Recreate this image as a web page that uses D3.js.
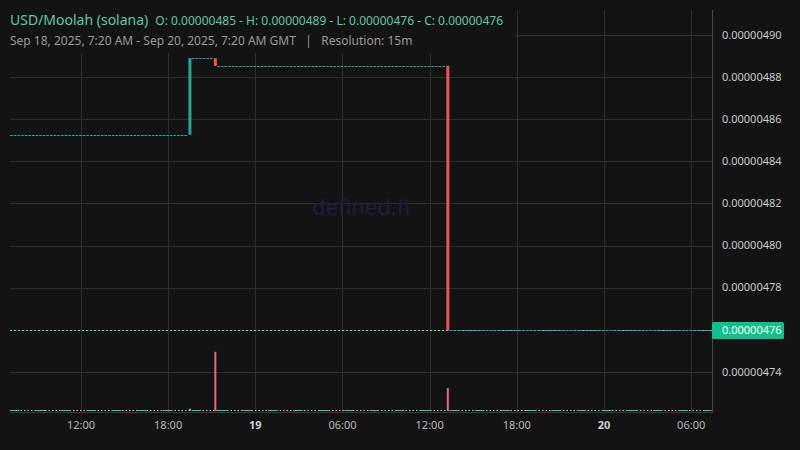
<!DOCTYPE html>
<html><head><meta charset="utf-8">
<script src="https://cdn.jsdelivr.net/npm/d3@7/dist/d3.min.js"></script>
<style>html,body{margin:0;padding:0;background:#131313;}svg{display:block;}</style>
</head><body>
<svg id="c" width="800" height="450"></svg>
<script>
// ---- data ----
const title = "USD/Moolah (solana)";
const ohlcText = "O: 0.00000485 - H: 0.00000489 - L: 0.00000476 - C: 0.00000476";
const subtitle = "Sep 18, 2025, 7:20 AM - Sep 20, 2025, 7:20 AM GMT   |   Resolution: 15m";
// candles with movement (15m)
const candleTimes = ["2025-09-18T19:30Z", "2025-09-18T21:15Z", "2025-09-19T13:15Z"];
const candleOpen  = [4.8527e-6, 4.8890e-6, 4.8854e-6];
const candleHigh  = [4.8890e-6, 4.8890e-6, 4.8854e-6];
const candleLow   = [4.8527e-6, 4.8854e-6, 4.7597e-6];
const candleClose = [4.8890e-6, 4.8854e-6, 4.7597e-6];
const candleVolume = [12, 310, 120];
// flat runs of unchanged 15m candles (zero volume)
const runStart = ["2025-09-18T07:15Z", "2025-09-18T19:45Z", "2025-09-18T21:30Z", "2025-09-19T13:30Z"];
const runEnd   = ["2025-09-18T19:15Z", "2025-09-18T21:00Z", "2025-09-19T13:00Z", "2025-09-20T07:15Z"];
const runPrice = [4.8527e-6, 4.8890e-6, 4.8854e-6, 4.7597e-6];
const lastPrice = 4.7597e-6;
const priceTicks = [4.74e-6, 4.76e-6, 4.78e-6, 4.80e-6, 4.82e-6, 4.84e-6, 4.86e-6, 4.88e-6, 4.90e-6];
const timeTicks = ["2025-09-18T12:00Z","2025-09-18T18:00Z","2025-09-19T00:00Z","2025-09-19T06:00Z",
                   "2025-09-19T12:00Z","2025-09-19T18:00Z","2025-09-20T00:00Z","2025-09-20T06:00Z"];
const timeDomain = ["2025-09-18T07:07Z", "2025-09-20T07:26Z"];
const priceDomain = [4.7214e-6, 4.9119e-6];
const volumeDomain = [0, 2100];

// ---- layout ----
const L = 10, R = 712, T = 10, B = 411;
const UP = "#26a69a", DOWN = "#ef5350";
const font = "'Noto Sans', 'Open Sans', sans-serif";
const svg = d3.select("#c");
svg.append("rect").attr("width",800).attr("height",450).attr("fill","#131313");

const x = d3.scaleUtc().domain(timeDomain.map(d=>new Date(d))).range([L, R]);
const y = d3.scaleLinear().domain(priceDomain).range([B, T]);
const yv = d3.scaleLinear().domain(volumeDomain).range([B, T]);
const step = x(new Date("2025-09-19T00:15Z")) - x(new Date("2025-09-19T00:00Z"));

// grid
const g = svg.append("g");
g.selectAll("line.h").data(priceTicks).join("line")
  .attr("x1", L).attr("x2", R).attr("y1", d=>Math.round(y(d))+0.5).attr("y2", d=>Math.round(y(d))+0.5)
  .attr("stroke", "#2e2e2e").attr("stroke-width", 1);
g.selectAll("line.v").data(timeTicks.map(d=>new Date(d))).join("line")
  .attr("x1", d=>Math.round(x(d))+0.5).attr("x2", d=>Math.round(x(d))+0.5).attr("y1", T).attr("y2", B+1)
  .attr("stroke", "#2e2e2e").attr("stroke-width", 1);
// right border & bottom
svg.append("line").attr("x1", R+0.5).attr("x2", R+0.5).attr("y1", T).attr("y2", B+1.5).attr("stroke", "#4a4a4a");
svg.append("line").attr("x1", L).attr("x2", R+1).attr("y1", B+1.5).attr("y2", B+1.5).attr("stroke", "#3a3a3a");

// watermark
svg.append("text").attr("x", (L+R)/2).attr("y", 215).attr("text-anchor","middle")
  .attr("font-family", font).attr("font-size", 22).attr("fill", "#201e38").text("defined.fi");

// header background box (covers grid)
svg.append("rect").attr("x",0).attr("y",0).attr("width",515).attr("height",53).attr("fill","#131313");

// price line
svg.append("line").attr("x1", L).attr("x2", R).attr("y1", Math.round(y(lastPrice))+0.5).attr("y2", Math.round(y(lastPrice))+0.5)
  .attr("stroke", "#7fcfb8").attr("stroke-width", 1).attr("stroke-dasharray", "2,2");

// volume: zero-volume runs
const runs = runStart.map((s,i)=>({s:new Date(s), e:new Date(runEnd[i]), p:runPrice[i]}));
svg.append("line").attr("x1", L).attr("x2", R).attr("y1", yv(0)-0.5).attr("y2", yv(0)-0.5)
  .attr("stroke", "#9fd8c8").attr("stroke-width", 1).attr("stroke-dasharray", "1.5,2");
svg.selectAll("line.vr").data(runs).join("line")
  .attr("x1", d=>x(d.s)-step/2).attr("x2", d=>x(d.e)+step/2)
  .attr("y1", yv(0)-0.5).attr("y2", yv(0)-0.5)
  .attr("stroke", "#4fc3a3").attr("stroke-width", 1).attr("stroke-dasharray", `${(step*2.6).toFixed(2)},${(step*4.4).toFixed(2)}`);
// volume bars
const candles = candleTimes.map((t,i)=>({t:new Date(t), o:candleOpen[i], h:candleHigh[i], l:candleLow[i], c:candleClose[i], v:candleVolume[i]}));
svg.selectAll("rect.vol").data(candles).join("rect")
  .attr("x", d=>x(d.t)-1).attr("width", 2)
  .attr("y", d=>yv(d.v)).attr("height", d=>Math.max(1, yv(0)-yv(d.v)))
  .attr("fill", d=>d.c>=d.o ? "#5cc9a8" : "#e8657a");

// flat candle runs
svg.selectAll("line.run").data(runs).join("line")
  .attr("x1", d=>x(d.s)-step/2).attr("x2", d=>x(d.e)+step/2)
  .attr("y1", d=>Math.round(y(d.p))+0.5).attr("y2", d=>Math.round(y(d.p))+0.5)
  .attr("stroke", UP).attr("stroke-width", 1).attr("stroke-dasharray", `${(step*0.75).toFixed(2)},${(step*0.25).toFixed(2)}`);

// candles
const cw = 3;
svg.selectAll("line.wick").data(candles).join("line")
  .attr("x1", d=>x(d.t)).attr("x2", d=>x(d.t)).attr("y1", d=>y(d.h)).attr("y2", d=>y(d.l))
  .attr("stroke", d=>d.c>=d.o?UP:DOWN).attr("stroke-width", 1);
svg.selectAll("rect.body").data(candles).join("rect")
  .attr("x", d=>x(d.t)-cw/2).attr("width", cw)
  .attr("y", d=>y(Math.max(d.o,d.c))).attr("height", d=>Math.max(1, Math.abs(y(d.o)-y(d.c))))
  .attr("fill", d=>d.c>=d.o?UP:DOWN);

// right axis labels
svg.selectAll("text.py").data(priceTicks).join("text")
  .attr("x", 722).attr("y", d=>y(d)).attr("dy", "0.35em")
  .attr("font-family", font).attr("font-size", 11).attr("fill", "#c8c8c8")
  .text(d=>d3.format(".8f")(d));
// last price label
const ly = Math.round(y(lastPrice));
svg.append("rect").attr("x", R).attr("y", ly-8).attr("width", 72).attr("height", 17).attr("rx", 1.5).attr("fill", "#0fbf8c");
svg.append("text").attr("x", 722).attr("y", ly+0.5).attr("dy","0.35em")
  .attr("font-family", font).attr("font-size", 11).attr("fill", "#ffffff").text(d3.format(".8f")(lastPrice));

// time axis labels
svg.selectAll("text.tx").data(timeTicks.map(d=>new Date(d))).join("text")
  .attr("x", d=>x(d)).attr("y", 429).attr("text-anchor","middle")
  .attr("font-family", font).attr("font-size", 11)
  .attr("font-weight", d=>d.getUTCHours()===0?"bold":"normal")
  .attr("fill", d=>d.getUTCHours()===0?"#d0d0d0":"#b8b8b8")
  .text(d=>d.getUTCHours()===0 ? d3.utcFormat("%-d")(d) : d3.utcFormat("%H:%M")(d));

// header
const h1 = svg.append("text").attr("x", 10).attr("y", 24.5).attr("font-family", font);
h1.append("tspan").attr("font-size", 14).attr("fill", "#5fc9a7").text(title);
h1.append("tspan").attr("dx", 7).attr("font-size", 12).attr("fill", "#5fc9a7").text(ohlcText);
svg.append("text").attr("x", 10).attr("y", 45).attr("font-family", font).attr("font-size", 12)
  .attr("fill", "#9a9a9a").attr("xml:space","preserve").style("white-space","pre").text(subtitle);
</script>
</body></html>
